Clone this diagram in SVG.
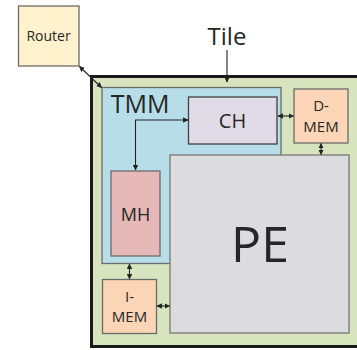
<svg xmlns="http://www.w3.org/2000/svg" width="357" height="350" viewBox="0 0 357 350">
<style>
text{font-family:"Open Sans","Noto Sans","Liberation Sans",sans-serif;fill:#262626;text-anchor:middle}
.box{stroke:#6b6b6b;stroke-width:1.3}
.cn{fill:none;stroke:#222;stroke-width:1.1}
</style>
<defs>
<marker id="ah" viewBox="0 0 10 10" refX="9" refY="5" markerWidth="5" markerHeight="5" orient="auto-start-reverse">
<path d="M0 0 L10 5 L0 10 Z" fill="#222"/>
</marker>
</defs>
<rect width="357" height="350" fill="#fff"/>
<g id="tile">
<rect x="91.5" y="76.5" width="270" height="270" fill="#d7e4bd" stroke="#1a1a1a" stroke-width="3"/>
<text x="227" y="45" font-size="24">Tile</text>
</g>
<g id="router">
<rect class="box" x="18.5" y="6" width="60.5" height="60" fill="#fff2cc"/>
<text x="48.5" y="41" font-size="14">Router</text>
</g>
<g id="tmm">
<rect class="box" x="102" y="87.5" width="179" height="176" fill="#b7dee8"/>
<text x="140" y="113" font-size="25">TMM</text>
</g>
<g id="ch">
<rect x="188.5" y="97" width="88.5" height="47" fill="#e1dbe8" stroke="#404040" stroke-width="1.3"/>
<text x="232.5" y="128" font-size="20">CH</text>
</g>
<g id="mh">
<rect x="111" y="171" width="49" height="85" fill="#e6b9b8" stroke="#6b6b6b" stroke-width="1.3"/>
<text x="135.5" y="221" font-size="18">MH</text>
</g>
<g id="dmem">
<rect class="box" x="294" y="89" width="54" height="54" fill="#fbd5b5"/>
<text x="321" y="111" font-size="15">D-</text>
<text x="321" y="132" font-size="15">MEM</text>
</g>
<g id="pe">
<rect x="170" y="155" width="179" height="178" fill="#dcdcde" stroke="#777" stroke-width="1.3"/>
<text x="260" y="262" font-size="50">PE</text>
</g>
<g id="imem">
<rect class="box" x="102.5" y="279.5" width="54" height="54" fill="#fbd5b5"/>
<text x="129.5" y="302" font-size="15">I-</text>
<text x="129.5" y="322" font-size="15">MEM</text>
</g>
<g id="connectors">
<path class="cn" d="M227 50 V82" marker-end="url(#ah)"/>
<path class="cn" d="M79.5 66.5 L101.5 87.5" marker-start="url(#ah)" marker-end="url(#ah)"/>
<path class="cn" d="M135.5 170 V120 H188" marker-start="url(#ah)" marker-end="url(#ah)"/>
<path class="cn" d="M278 116 H293.5" marker-start="url(#ah)" marker-end="url(#ah)"/>
<path class="cn" d="M321 143.5 V154.5" marker-start="url(#ah)" marker-end="url(#ah)"/>
<path class="cn" d="M129.5 264 V279" marker-start="url(#ah)" marker-end="url(#ah)"/>
<path class="cn" d="M157 306 H169.5" marker-start="url(#ah)" marker-end="url(#ah)"/>
</g>
</svg>
